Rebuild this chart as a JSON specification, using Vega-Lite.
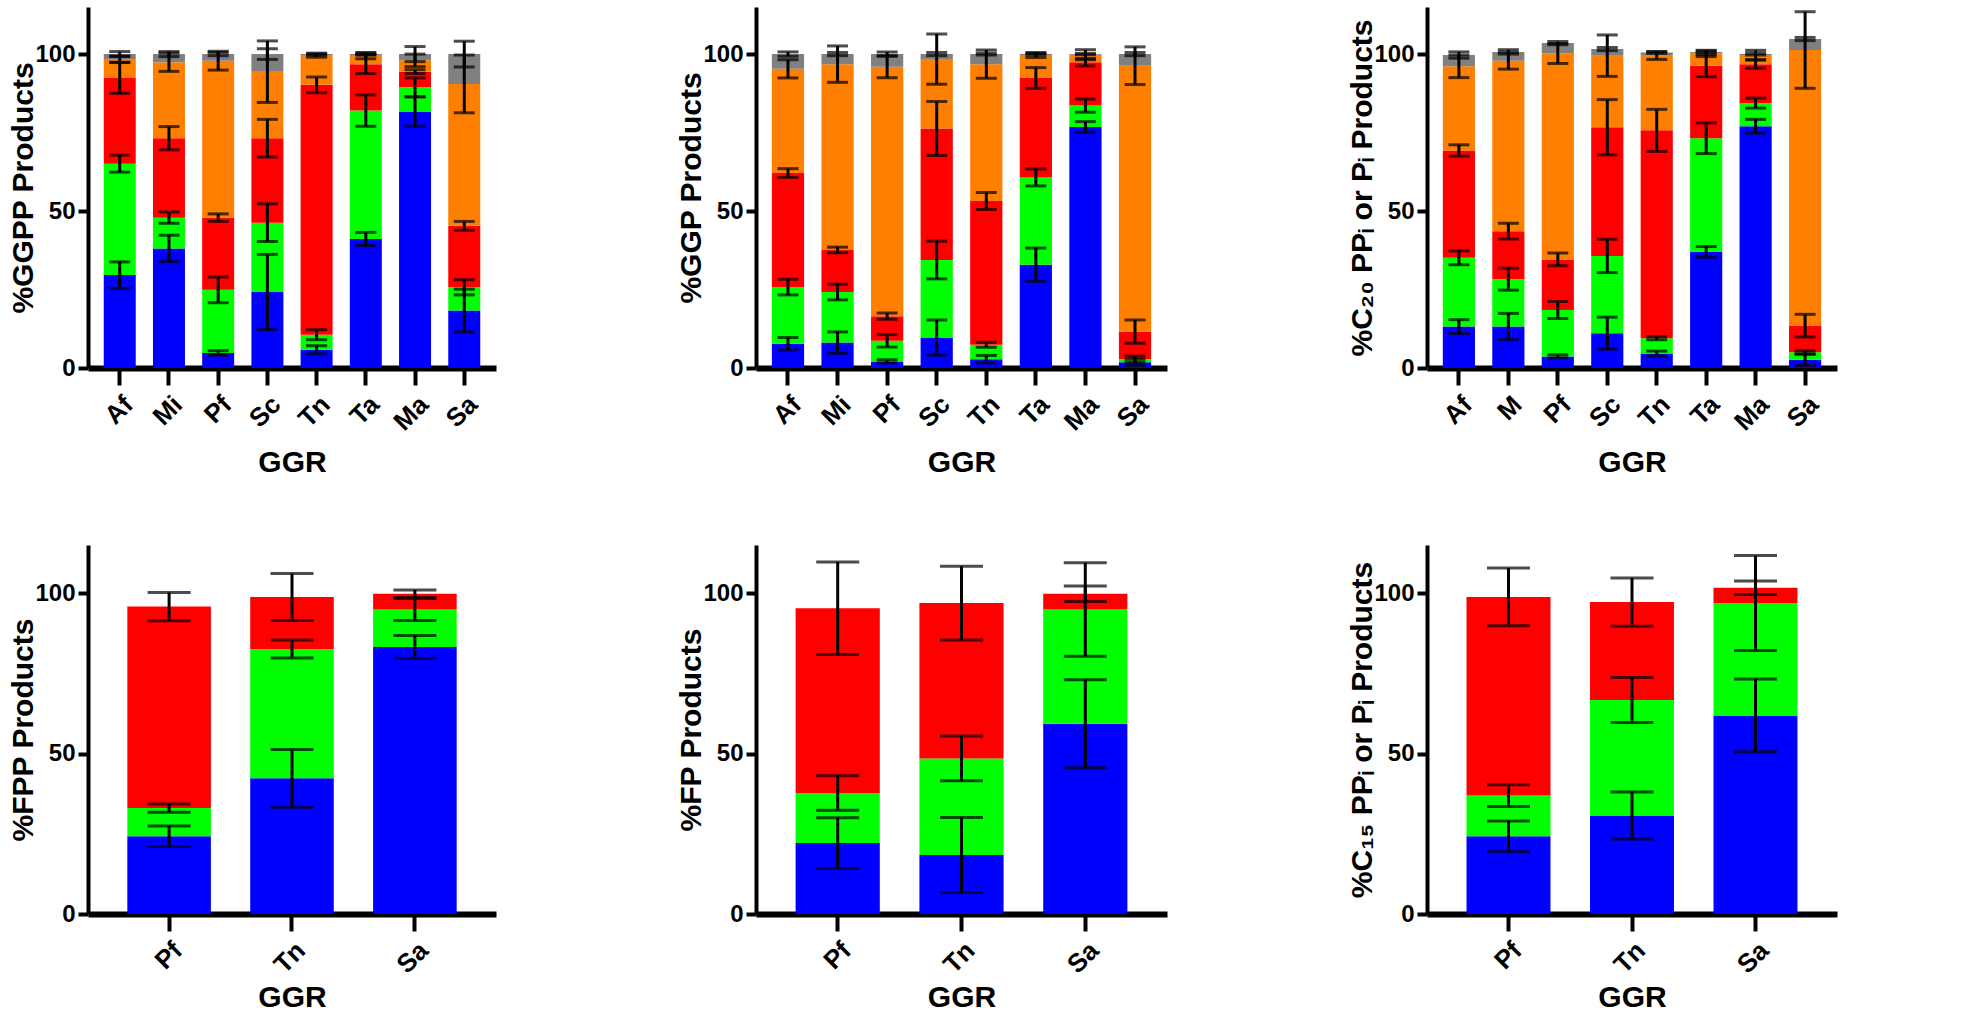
{
  "$schema": "https://vega.github.io/schema/vega-lite/v6.json",
  "padding": {"left": 8, "top": 7, "right": 5, "bottom": 0},
  "background": "white",
  "datasets": {
    "d": [
      {"panel":"GGPP","GGR":"Af","comp":"c1","value":29.6,"err":4.2},
      {"panel":"GGPP","GGR":"Af","comp":"c2","value":35.5,"err":2.7},
      {"panel":"GGPP","GGR":"Af","comp":"c3","value":27.3,"err":4.9},
      {"panel":"GGPP","GGR":"Af","comp":"c4","value":6.0,"err":1.0},
      {"panel":"GGPP","GGR":"Af","comp":"c5","value":1.6,"err":0.8},
      {"panel":"GGPP","GGR":"Mi","comp":"c1","value":38.1,"err":4.2},
      {"panel":"GGPP","GGR":"Mi","comp":"c2","value":9.8,"err":1.8},
      {"panel":"GGPP","GGR":"Mi","comp":"c3","value":25.3,"err":3.7},
      {"panel":"GGPP","GGR":"Mi","comp":"c4","value":24.2,"err":2.9},
      {"panel":"GGPP","GGR":"Mi","comp":"c5","value":2.6,"err":0.8},
      {"panel":"GGPP","GGR":"Pf","comp":"c1","value":4.8,"err":0.7},
      {"panel":"GGPP","GGR":"Pf","comp":"c2","value":20.1,"err":4.1},
      {"panel":"GGPP","GGR":"Pf","comp":"c3","value":23.0,"err":1.2},
      {"panel":"GGPP","GGR":"Pf","comp":"c4","value":50.0,"err":3.0},
      {"panel":"GGPP","GGR":"Pf","comp":"c5","value":2.1,"err":0.5},
      {"panel":"GGPP","GGR":"Sc","comp":"c1","value":24.2,"err":12.0},
      {"panel":"GGPP","GGR":"Sc","comp":"c2","value":22.1,"err":6.0},
      {"panel":"GGPP","GGR":"Sc","comp":"c3","value":26.9,"err":6.0},
      {"panel":"GGPP","GGR":"Sc","comp":"c4","value":21.2,"err":9.8},
      {"panel":"GGPP","GGR":"Sc","comp":"c5","value":5.6,"err":1.7},
      {"panel":"GGPP","GGR":"Tn","comp":"c1","value":5.8,"err":1.3},
      {"panel":"GGPP","GGR":"Tn","comp":"c2","value":4.8,"err":1.6},
      {"panel":"GGPP","GGR":"Tn","comp":"c3","value":79.6,"err":2.5},
      {"panel":"GGPP","GGR":"Tn","comp":"c4","value":9.3,"err":0.5},
      {"panel":"GGPP","GGR":"Tn","comp":"c5","value":0.5,"err":0.3},
      {"panel":"GGPP","GGR":"Ta","comp":"c1","value":41.1,"err":2.1},
      {"panel":"GGPP","GGR":"Ta","comp":"c2","value":40.9,"err":5.0},
      {"panel":"GGPP","GGR":"Ta","comp":"c3","value":14.8,"err":3.0},
      {"panel":"GGPP","GGR":"Ta","comp":"c4","value":2.7,"err":1.0},
      {"panel":"GGPP","GGR":"Ta","comp":"c5","value":0.5,"err":0.3},
      {"panel":"GGPP","GGR":"Ma","comp":"c1","value":81.7,"err":4.7},
      {"panel":"GGPP","GGR":"Ma","comp":"c2","value":7.7,"err":3.0},
      {"panel":"GGPP","GGR":"Ma","comp":"c3","value":5.0,"err":0.6},
      {"panel":"GGPP","GGR":"Ma","comp":"c4","value":3.6,"err":2.0},
      {"panel":"GGPP","GGR":"Ma","comp":"c5","value":2.0,"err":2.4},
      {"panel":"GGPP","GGR":"Sa","comp":"c1","value":18.3,"err":6.8},
      {"panel":"GGPP","GGR":"Sa","comp":"c2","value":7.4,"err":2.4},
      {"panel":"GGPP","GGR":"Sa","comp":"c3","value":19.6,"err":1.4},
      {"panel":"GGPP","GGR":"Sa","comp":"c4","value":45.2,"err":9.2},
      {"panel":"GGPP","GGR":"Sa","comp":"c5","value":9.5,"err":4.1},

      {"panel":"GGP","GGR":"Af","comp":"c1","value":7.7,"err":2.0},
      {"panel":"GGP","GGR":"Af","comp":"c2","value":18.1,"err":2.5},
      {"panel":"GGP","GGR":"Af","comp":"c3","value":36.3,"err":1.4},
      {"panel":"GGP","GGR":"Af","comp":"c4","value":33.2,"err":2.9},
      {"panel":"GGP","GGR":"Af","comp":"c5","value":4.7,"err":0.7},
      {"panel":"GGP","GGR":"Mi","comp":"c1","value":8.1,"err":3.4},
      {"panel":"GGP","GGR":"Mi","comp":"c2","value":16.1,"err":2.5},
      {"panel":"GGP","GGR":"Mi","comp":"c3","value":13.4,"err":0.9},
      {"panel":"GGP","GGR":"Mi","comp":"c4","value":59.2,"err":5.8},
      {"panel":"GGP","GGR":"Mi","comp":"c5","value":3.2,"err":0.5},
      {"panel":"GGP","GGR":"Pf","comp":"c1","value":2.1,"err":0.5},
      {"panel":"GGP","GGR":"Pf","comp":"c2","value":6.6,"err":2.0},
      {"panel":"GGP","GGR":"Pf","comp":"c3","value":7.8,"err":1.0},
      {"panel":"GGP","GGR":"Pf","comp":"c4","value":79.5,"err":3.5},
      {"panel":"GGP","GGR":"Pf","comp":"c5","value":4.0,"err":0.7},
      {"panel":"GGP","GGR":"Sc","comp":"c1","value":9.7,"err":5.6},
      {"panel":"GGP","GGR":"Sc","comp":"c2","value":24.7,"err":6.0},
      {"panel":"GGP","GGR":"Sc","comp":"c3","value":41.9,"err":8.6},
      {"panel":"GGP","GGR":"Sc","comp":"c4","value":22.1,"err":8.0},
      {"panel":"GGP","GGR":"Sc","comp":"c5","value":1.6,"err":0.5},
      {"panel":"GGP","GGR":"Tn","comp":"c1","value":2.8,"err":1.2},
      {"panel":"GGP","GGR":"Tn","comp":"c2","value":4.6,"err":0.8},
      {"panel":"GGP","GGR":"Tn","comp":"c3","value":45.8,"err":2.7},
      {"panel":"GGP","GGR":"Tn","comp":"c4","value":43.6,"err":4.5},
      {"panel":"GGP","GGR":"Tn","comp":"c5","value":3.2,"err":0.3},
      {"panel":"GGP","GGR":"Ta","comp":"c1","value":32.9,"err":5.3},
      {"panel":"GGP","GGR":"Ta","comp":"c2","value":27.8,"err":2.7},
      {"panel":"GGP","GGR":"Ta","comp":"c3","value":31.7,"err":3.3},
      {"panel":"GGP","GGR":"Ta","comp":"c4","value":7.3,"err":0.8},
      {"panel":"GGP","GGR":"Ta","comp":"c5","value":0.3,"err":0.2},
      {"panel":"GGP","GGR":"Ma","comp":"c1","value":76.8,"err":1.7},
      {"panel":"GGP","GGR":"Ma","comp":"c2","value":6.8,"err":2.1},
      {"panel":"GGP","GGR":"Ma","comp":"c3","value":13.8,"err":1.2},
      {"panel":"GGP","GGR":"Ma","comp":"c4","value":2.4,"err":1.6},
      {"panel":"GGP","GGR":"Ma","comp":"c5","value":0.2,"err":0.2},
      {"panel":"GGP","GGR":"Sa","comp":"c1","value":1.8,"err":1.0},
      {"panel":"GGP","GGR":"Sa","comp":"c2","value":1.0,"err":1.0},
      {"panel":"GGP","GGR":"Sa","comp":"c3","value":8.8,"err":3.7},
      {"panel":"GGP","GGR":"Sa","comp":"c4","value":84.7,"err":6.0},
      {"panel":"GGP","GGR":"Sa","comp":"c5","value":3.7,"err":0.5},

      {"panel":"C20","GGR":"Af","comp":"c1","value":13.2,"err":2.2},
      {"panel":"C20","GGR":"Af","comp":"c2","value":21.9,"err":2.2},
      {"panel":"C20","GGR":"Af","comp":"c3","value":34.2,"err":1.8},
      {"panel":"C20","GGR":"Af","comp":"c4","value":26.8,"err":3.6},
      {"panel":"C20","GGR":"Af","comp":"c5","value":3.6,"err":1.0},
      {"panel":"C20","GGR":"M","comp":"c1","value":13.2,"err":4.2},
      {"panel":"C20","GGR":"M","comp":"c2","value":15.1,"err":3.5},
      {"panel":"C20","GGR":"M","comp":"c3","value":15.3,"err":2.5},
      {"panel":"C20","GGR":"M","comp":"c4","value":54.3,"err":2.7},
      {"panel":"C20","GGR":"M","comp":"c5","value":2.8,"err":0.7},
      {"panel":"C20","GGR":"Pf","comp":"c1","value":3.7,"err":0.5},
      {"panel":"C20","GGR":"Pf","comp":"c2","value":14.8,"err":2.7},
      {"panel":"C20","GGR":"Pf","comp":"c3","value":16.1,"err":2.0},
      {"panel":"C20","GGR":"Pf","comp":"c4","value":65.6,"err":3.2},
      {"panel":"C20","GGR":"Pf","comp":"c5","value":3.3,"err":0.5},
      {"panel":"C20","GGR":"Sc","comp":"c1","value":11.1,"err":5.1},
      {"panel":"C20","GGR":"Sc","comp":"c2","value":24.6,"err":5.3},
      {"panel":"C20","GGR":"Sc","comp":"c3","value":41.0,"err":8.8},
      {"panel":"C20","GGR":"Sc","comp":"c4","value":22.8,"err":6.6},
      {"panel":"C20","GGR":"Sc","comp":"c5","value":2.1,"err":0.5},
      {"panel":"C20","GGR":"Tn","comp":"c1","value":4.6,"err":0.8},
      {"panel":"C20","GGR":"Tn","comp":"c2","value":4.9,"err":0.5},
      {"panel":"C20","GGR":"Tn","comp":"c3","value":66.2,"err":6.7},
      {"panel":"C20","GGR":"Tn","comp":"c4","value":23.8,"err":1.2},
      {"panel":"C20","GGR":"Tn","comp":"c5","value":1.0,"err":0.3},
      {"panel":"C20","GGR":"Ta","comp":"c1","value":37.0,"err":1.7},
      {"panel":"C20","GGR":"Ta","comp":"c2","value":36.2,"err":4.9},
      {"panel":"C20","GGR":"Ta","comp":"c3","value":23.1,"err":3.5},
      {"panel":"C20","GGR":"Ta","comp":"c4","value":3.9,"err":1.0},
      {"panel":"C20","GGR":"Ta","comp":"c5","value":0.5,"err":0.3},
      {"panel":"C20","GGR":"Ma","comp":"c1","value":77.0,"err":2.2},
      {"panel":"C20","GGR":"Ma","comp":"c2","value":7.4,"err":1.6},
      {"panel":"C20","GGR":"Ma","comp":"c3","value":12.4,"err":1.3},
      {"panel":"C20","GGR":"Ma","comp":"c4","value":2.9,"err":1.5},
      {"panel":"C20","GGR":"Ma","comp":"c5","value":0.3,"err":0.3},
      {"panel":"C20","GGR":"Sa","comp":"c1","value":2.6,"err":1.8},
      {"panel":"C20","GGR":"Sa","comp":"c2","value":2.4,"err":0.5},
      {"panel":"C20","GGR":"Sa","comp":"c3","value":8.5,"err":3.6},
      {"panel":"C20","GGR":"Sa","comp":"c4","value":87.8,"err":12.2},
      {"panel":"C20","GGR":"Sa","comp":"c5","value":3.5,"err":0.5},

      {"panel":"FPP","GGR":"Pf","comp":"c1","value":24.2,"err":3.2},
      {"panel":"FPP","GGR":"Pf","comp":"c2","value":8.8,"err":1.3},
      {"panel":"FPP","GGR":"Pf","comp":"c3","value":62.8,"err":4.4},
      {"panel":"FPP","GGR":"Tn","comp":"c1","value":42.3,"err":9.0},
      {"panel":"FPP","GGR":"Tn","comp":"c2","value":40.3,"err":2.8},
      {"panel":"FPP","GGR":"Tn","comp":"c3","value":16.2,"err":7.3},
      {"panel":"FPP","GGR":"Sa","comp":"c1","value":83.2,"err":3.6},
      {"panel":"FPP","GGR":"Sa","comp":"c2","value":11.7,"err":3.4},
      {"panel":"FPP","GGR":"Sa","comp":"c3","value":4.9,"err":1.2},

      {"panel":"FP","GGR":"Pf","comp":"c1","value":22.1,"err":7.9},
      {"panel":"FP","GGR":"Pf","comp":"c2","value":15.6,"err":5.4},
      {"panel":"FP","GGR":"Pf","comp":"c3","value":57.6,"err":14.4},
      {"panel":"FP","GGR":"Tn","comp":"c1","value":18.4,"err":11.7},
      {"panel":"FP","GGR":"Tn","comp":"c2","value":30.1,"err":7.0},
      {"panel":"FP","GGR":"Tn","comp":"c3","value":48.4,"err":11.5},
      {"panel":"FP","GGR":"Sa","comp":"c1","value":59.3,"err":13.7},
      {"panel":"FP","GGR":"Sa","comp":"c2","value":35.6,"err":14.6},
      {"panel":"FP","GGR":"Sa","comp":"c3","value":4.9,"err":2.4},

      {"panel":"C15","GGR":"Pf","comp":"c1","value":24.2,"err":4.8},
      {"panel":"C15","GGR":"Pf","comp":"c2","value":12.7,"err":3.4},
      {"panel":"C15","GGR":"Pf","comp":"c3","value":61.9,"err":9.0},
      {"panel":"C15","GGR":"Tn","comp":"c1","value":30.7,"err":7.3},
      {"panel":"C15","GGR":"Tn","comp":"c2","value":36.0,"err":7.0},
      {"panel":"C15","GGR":"Tn","comp":"c3","value":30.5,"err":7.5},
      {"panel":"C15","GGR":"Sa","comp":"c1","value":61.9,"err":11.3},
      {"panel":"C15","GGR":"Sa","comp":"c2","value":35.0,"err":14.8},
      {"panel":"C15","GGR":"Sa","comp":"c3","value":4.8,"err":2.1}
    ]
  },
  "vconcat": [
    {
      "hconcat": [
        {
          "width": 408, "height": 361,
          "data": {"name": "d"},
          "transform": [
            {"filter": "datum.panel === 'GGPP'"},
            {"stack": "value", "groupby": ["GGR"], "sort": [{"field": "comp", "order": "ascending"}], "as": ["y0", "y1"]}
          ],
          "encoding": {
            "x": {"field": "GGR", "type": "nominal", "title": "GGR", "sort": ["Af","Mi","Pf","Sc","Tn","Ta","Ma","Sa"], "scale": {"paddingInner": 0.35, "paddingOuter": 0.32}}
          },
          "layer": [
            {"mark": {"type": "bar"},
             "encoding": {
               "y": {"field": "y0", "type": "quantitative", "title": "%GGPP Products", "scale": {"domain": [0, 115], "nice": false}, "axis": {"values": [0, 50, 100]}},
               "y2": {"field": "y1"},
               "color": {"field": "comp", "type": "nominal", "scale": {"domain": ["c1","c2","c3","c4","c5"], "range": ["#0000FF","#00FF00","#FF0000","#FF8000","#808080"]}, "legend": null}
             }},
            {"mark": {"type": "errorbar", "ticks": true, "size": 21, "thickness": 3, "color": "black"},
             "encoding": {
               "y": {"field": "y1", "type": "quantitative", "title": "%GGPP Products"},
               "yError": {"field": "err"}
             }}
          ]
        },
        {
          "width": 411, "height": 361,
          "data": {"name": "d"},
          "transform": [
            {"filter": "datum.panel === 'GGP'"},
            {"stack": "value", "groupby": ["GGR"], "sort": [{"field": "comp", "order": "ascending"}], "as": ["y0", "y1"]}
          ],
          "encoding": {
            "x": {"field": "GGR", "type": "nominal", "title": "GGR", "sort": ["Af","Mi","Pf","Sc","Tn","Ta","Ma","Sa"], "scale": {"paddingInner": 0.35, "paddingOuter": 0.32}}
          },
          "layer": [
            {"mark": {"type": "bar"},
             "encoding": {
               "y": {"field": "y0", "type": "quantitative", "title": "%GGP Products", "scale": {"domain": [0, 115], "nice": false}, "axis": {"values": [0, 50, 100]}},
               "y2": {"field": "y1"},
               "color": {"field": "comp", "type": "nominal", "scale": {"domain": ["c1","c2","c3","c4","c5"], "range": ["#0000FF","#00FF00","#FF0000","#FF8000","#808080"]}, "legend": null}
             }},
            {"mark": {"type": "errorbar", "ticks": true, "size": 21, "thickness": 3, "color": "black"},
             "encoding": {
               "y": {"field": "y1", "type": "quantitative", "title": "%GGP Products"},
               "yError": {"field": "err"}
             }}
          ]
        },
        {
          "width": 410, "height": 361,
          "data": {"name": "d"},
          "transform": [
            {"filter": "datum.panel === 'C20'"},
            {"stack": "value", "groupby": ["GGR"], "sort": [{"field": "comp", "order": "ascending"}], "as": ["y0", "y1"]}
          ],
          "encoding": {
            "x": {"field": "GGR", "type": "nominal", "title": "GGR", "sort": ["Af","M","Pf","Sc","Tn","Ta","Ma","Sa"], "scale": {"paddingInner": 0.35, "paddingOuter": 0.32}}
          },
          "layer": [
            {"mark": {"type": "bar"},
             "encoding": {
               "y": {"field": "y0", "type": "quantitative", "title": "%C₂₀ PPᵢ or Pᵢ Products", "scale": {"domain": [0, 115], "nice": false}, "axis": {"values": [0, 50, 100]}},
               "y2": {"field": "y1"},
               "color": {"field": "comp", "type": "nominal", "scale": {"domain": ["c1","c2","c3","c4","c5"], "range": ["#0000FF","#00FF00","#FF0000","#FF8000","#808080"]}, "legend": null}
             }},
            {"mark": {"type": "errorbar", "ticks": true, "size": 21, "thickness": 3, "color": "black"},
             "encoding": {
               "y": {"field": "y1", "type": "quantitative", "title": "%C₂₀ PPᵢ or Pᵢ Products"},
               "yError": {"field": "err"}
             }}
          ]
        }
      ]
    },
    {
      "hconcat": [
        {
          "width": 408, "height": 369,
          "data": {"name": "d"},
          "transform": [
            {"filter": "datum.panel === 'FPP'"},
            {"stack": "value", "groupby": ["GGR"], "sort": [{"field": "comp", "order": "ascending"}], "as": ["y0", "y1"]}
          ],
          "encoding": {
            "x": {"field": "GGR", "type": "nominal", "title": "GGR", "sort": ["Pf","Tn","Sa"], "scale": {"paddingInner": 0.32, "paddingOuter": 0.32}, "axis": {"titlePadding": 5}}
          },
          "layer": [
            {"mark": {"type": "bar"},
             "encoding": {
               "y": {"field": "y0", "type": "quantitative", "title": "%FPP Products", "scale": {"domain": [0, 115], "nice": false}, "axis": {"values": [0, 50, 100]}},
               "y2": {"field": "y1"},
               "color": {"field": "comp", "type": "nominal", "scale": {"domain": ["c1","c2","c3","c4","c5"], "range": ["#0000FF","#00FF00","#FF0000","#FF8000","#808080"]}, "legend": null}
             }},
            {"mark": {"type": "errorbar", "ticks": true, "size": 43, "thickness": 3, "color": "black"},
             "encoding": {
               "y": {"field": "y1", "type": "quantitative", "title": "%FPP Products"},
               "yError": {"field": "err"}
             }}
          ]
        },
        {
          "width": 411, "height": 369,
          "data": {"name": "d"},
          "transform": [
            {"filter": "datum.panel === 'FP'"},
            {"stack": "value", "groupby": ["GGR"], "sort": [{"field": "comp", "order": "ascending"}], "as": ["y0", "y1"]}
          ],
          "encoding": {
            "x": {"field": "GGR", "type": "nominal", "title": "GGR", "sort": ["Pf","Tn","Sa"], "scale": {"paddingInner": 0.32, "paddingOuter": 0.32}, "axis": {"titlePadding": 5}}
          },
          "layer": [
            {"mark": {"type": "bar"},
             "encoding": {
               "y": {"field": "y0", "type": "quantitative", "title": "%FP Products", "scale": {"domain": [0, 115], "nice": false}, "axis": {"values": [0, 50, 100]}},
               "y2": {"field": "y1"},
               "color": {"field": "comp", "type": "nominal", "scale": {"domain": ["c1","c2","c3","c4","c5"], "range": ["#0000FF","#00FF00","#FF0000","#FF8000","#808080"]}, "legend": null}
             }},
            {"mark": {"type": "errorbar", "ticks": true, "size": 43, "thickness": 3, "color": "black"},
             "encoding": {
               "y": {"field": "y1", "type": "quantitative", "title": "%FP Products"},
               "yError": {"field": "err"}
             }}
          ]
        },
        {
          "width": 410, "height": 369,
          "data": {"name": "d"},
          "transform": [
            {"filter": "datum.panel === 'C15'"},
            {"stack": "value", "groupby": ["GGR"], "sort": [{"field": "comp", "order": "ascending"}], "as": ["y0", "y1"]}
          ],
          "encoding": {
            "x": {"field": "GGR", "type": "nominal", "title": "GGR", "sort": ["Pf","Tn","Sa"], "scale": {"paddingInner": 0.32, "paddingOuter": 0.32}, "axis": {"titlePadding": 5}}
          },
          "layer": [
            {"mark": {"type": "bar"},
             "encoding": {
               "y": {"field": "y0", "type": "quantitative", "title": "%C₁₅ PPᵢ or Pᵢ Products", "scale": {"domain": [0, 115], "nice": false}, "axis": {"values": [0, 50, 100]}},
               "y2": {"field": "y1"},
               "color": {"field": "comp", "type": "nominal", "scale": {"domain": ["c1","c2","c3","c4","c5"], "range": ["#0000FF","#00FF00","#FF0000","#FF8000","#808080"]}, "legend": null}
             }},
            {"mark": {"type": "errorbar", "ticks": true, "size": 43, "thickness": 3, "color": "black"},
             "encoding": {
               "y": {"field": "y1", "type": "quantitative", "title": "%C₁₅ PPᵢ or Pᵢ Products"},
               "yError": {"field": "err"}
             }}
          ]
        }
      ]
    }
  ],
  "spacing": 67,
  "config": {
    "view": {"stroke": null},
    "concat": {"spacing": 180},
    "axis": {
      "grid": false,
      "domainColor": "black",
      "tickColor": "black",
      "labelColor": "black",
      "titleColor": "black",
      "labelFont": "Liberation Sans",
      "titleFont": "Liberation Sans",
      "labelFontWeight": "bold",
      "titleFontWeight": "bold"
    },
    "axisX": {
      "labelAngle": -45,
      "tickSize": 17,
      "tickWidth": 4,
      "domainWidth": 6,
      "labelFontSize": 26,
      "labelPadding": 6,
      "titleFontSize": 30,
      "titlePadding": 13
    },
    "axisY": {
      "tickSize": 10,
      "tickWidth": 4,
      "domainWidth": 4,
      "labelFontSize": 24,
      "labelPadding": 3,
      "titleFontSize": 30,
      "titlePadding": -4
    }
  }
}
